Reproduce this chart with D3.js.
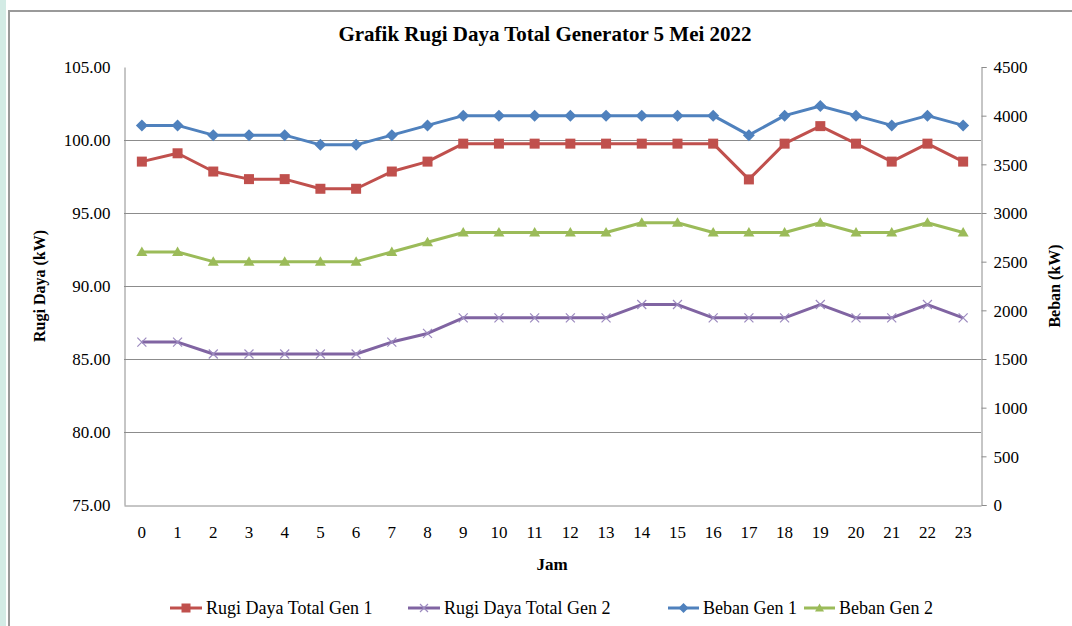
<!DOCTYPE html>
<html><head><meta charset="utf-8">
<script src="https://cdn.jsdelivr.net/npm/d3@7"></script>
<style>
html,body{margin:0;padding:0;background:#fff;}
svg{display:block;}
text{font-family:"Liberation Serif","Times New Roman",serif;fill:#000;}
</style></head>
<body>
<svg id="c" width="1072" height="626"></svg>
<script>
const hours = ["0","1","2","3","4","5","6","7","8","9","10","11","12","13","14","15","16","17","18","19","20","21","22","23"];
const rugiGen1 = [98.52,99.09,97.84,97.32,97.32,96.66,96.66,97.84,98.52,99.75,99.75,99.75,99.75,99.75,99.75,99.75,99.75,97.30,99.75,100.95,99.75,98.52,99.75,98.52];
const rugiGen2 = [86.16,86.16,85.34,85.34,85.34,85.34,85.34,86.16,86.75,87.82,87.82,87.82,87.82,87.82,88.73,88.73,87.82,87.82,87.82,88.73,87.82,87.82,88.73,87.82];
const bebanGen1 = [3900,3900,3800,3800,3800,3700,3700,3800,3900,4000,4000,4000,4000,4000,4000,4000,4000,3800,4000,4100,4000,3900,4000,3900];
const bebanGen2 = [2600,2600,2500,2500,2500,2500,2500,2600,2700,2800,2800,2800,2800,2800,2900,2900,2800,2800,2800,2900,2800,2800,2900,2800];
const leftTicks = [75,80,85,90,95,100,105];
const rightTicks = [0,500,1000,1500,2000,2500,3000,3500,4000,4500];
const title = "Grafik Rugi Daya Total Generator 5 Mei 2022";
const xTitle = "Jam", yLeftTitle = "Rugi Daya (kW)", yRightTitle = "Beban (kW)";
const seriesNames = ["Rugi Daya Total Gen 1","Rugi Daya Total Gen 2","Beban Gen 1","Beban Gen 2"];

const svg = d3.select("#c");
svg.append("rect").attr("x",0).attr("y",0).attr("width",6).attr("height",626).attr("fill","#d3ebe5");
svg.append("path").attr("d","M9,626 V11 H1072").attr("fill","none").attr("stroke","#9a9a9a").attr("stroke-width",2);

const L=124, R=981, T=67, B=505;
const x = d3.scaleBand().domain(hours).range([L,R]);
const yL = d3.scaleLinear().domain([75,105]).range([B,T]);
const yR = d3.scaleLinear().domain([0,4500]).range([B,T]);
const gridC = "#8c8c8c";
const SERIF = "'Liberation Serif','Times New Roman',serif";

svg.append("g").selectAll("line").data(leftTicks.filter(d=>d>75 && d<105)).join("line")
  .attr("x1",L).attr("x2",R).attr("y1",d=>Math.round(yL(d))+0.5).attr("y2",d=>Math.round(yL(d))+0.5)
  .attr("stroke",gridC).attr("stroke-width",1);

const gL = svg.append("g").attr("transform",`translate(${L+0.5},0)`)
  .call(d3.axisLeft(yL).tickValues(leftTicks).tickFormat(d3.format(".2f")).tickSize(0).tickPadding(14));
gL.attr("font-family",SERIF).attr("font-size",17);
gL.select(".domain").attr("stroke",gridC);
gL.selectAll("text").attr("fill","#222").attr("dy","0.35em");

const gR = svg.append("g").attr("transform",`translate(${R+0.5},0)`)
  .call(d3.axisRight(yR).tickValues(rightTicks).tickFormat(d3.format("d")).tickSize(5).tickPadding(7));
gR.attr("font-family",SERIF).attr("font-size",17);
gR.select(".domain").attr("stroke",gridC);
gR.selectAll("line").attr("stroke",gridC);
gR.selectAll("text").attr("fill","#222").attr("dy","0.35em");

const gB = svg.append("g").attr("transform",`translate(0,${B+0.5})`)
  .call(d3.axisBottom(x).tickSize(0).tickPadding(20));
gB.attr("font-family",SERIF).attr("font-size",17);
gB.select(".domain").attr("stroke",gridC);
gB.selectAll("text").attr("fill","#222");

svg.append("text").attr("x",545).attr("y",41).attr("text-anchor","middle").attr("font-weight","bold").attr("font-size",21).text(title);
svg.append("text").attr("x",552).attr("y",570).attr("text-anchor","middle").attr("font-weight","bold").attr("font-size",17).text(xTitle);
svg.append("text").attr("transform","translate(45,286) rotate(-90)").attr("text-anchor","middle").attr("font-weight","bold").attr("font-size",16).text(yLeftTitle);
svg.append("text").attr("transform","translate(1060,286) rotate(-90)").attr("text-anchor","middle").attr("font-weight","bold").attr("font-size",16).text(yRightTitle);

const cx = h => x(h)+x.bandwidth()/2;
const series = [
  {name:seriesNames[0], vals:rugiGen1, y:yL, color:"#C0504D", marker:"square"},
  {name:seriesNames[1], vals:rugiGen2, y:yL, color:"#8064A2", marker:"x"},
  {name:seriesNames[2], vals:bebanGen1, y:yR, color:"#4F81BD", marker:"diamond"},
  {name:seriesNames[3], vals:bebanGen2, y:yR, color:"#9BBB59", marker:"triangle"}
];
function drawMarker(g, type, color, px, py, s){
  if(type==="square"){
    g.append("rect").attr("x",px-s/2).attr("y",py-s/2).attr("width",s).attr("height",s).attr("fill",color);
  } else if(type==="diamond"){
    const r=s/2+1;
    g.append("path").attr("d",`M${px},${py-r}L${px+r},${py}L${px},${py+r}L${px-r},${py}Z`).attr("fill",color);
  } else if(type==="triangle"){
    const r=s/2+0.5;
    g.append("path").attr("d",`M${px},${py-r}L${px+r},${py+r*0.75}L${px-r},${py+r*0.75}Z`).attr("fill",color);
  } else if(type==="x"){
    const r=s/2;
    g.append("path").attr("d",`M${px-r},${py-r}L${px+r},${py+r}M${px-r},${py+r}L${px+r},${py-r}`).attr("stroke","#9c8abf").attr("stroke-width",1.2).attr("fill","none");
  }
}
series.forEach(s=>{
  const g = svg.append("g");
  const line = d3.line().x((d,i)=>cx(hours[i])).y(d=>s.y(d));
  g.append("path").datum(s.vals).attr("d",line).attr("fill","none").attr("stroke",s.color).attr("stroke-width",3).attr("stroke-linejoin","round");
  const sz = s.marker==="square"?10:(s.marker==="x"?9:10);
  s.vals.forEach((v,i)=>drawMarker(g,s.marker,s.color,cx(hours[i]),s.y(v),sz));
});

const legX = [170, 408, 668, 804];
const lg = svg.append("g");
series.forEach((s,i)=>{
  const x0 = legX[i], ly=608;
  const w = i<2?32:31;
  lg.append("line").attr("x1",x0).attr("x2",x0+w).attr("y1",ly).attr("y2",ly).attr("stroke",s.color).attr("stroke-width",3);
  drawMarker(lg,s.marker,s.color,x0+w/2,ly,s.marker==="square"?9:8);
  lg.append("text").attr("x",x0+w+4).attr("y",ly+6).attr("font-size",18).text(s.name);
});
</script>
</body></html>
